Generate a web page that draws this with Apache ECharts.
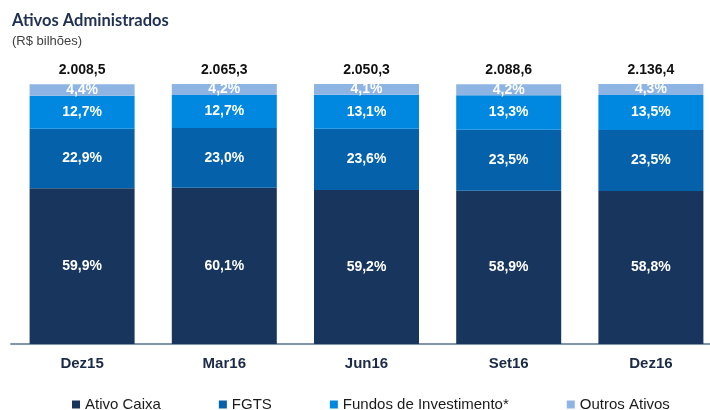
<!DOCTYPE html>
<html>
<head>
<meta charset="utf-8">
<script src="https://cdn.jsdelivr.net/npm/echarts@6/dist/echarts.min.js"></script>
<style>
  html, body { margin: 0; padding: 0; background: #fff; }
  #chart { width: 710px; height: 410px; }
</style>
</head>
<body>
<div id="chart"></div>
<script>
// períodos e totais (R$ bilhões)
var periodos = ['Dez15', 'Mar16', 'Jun16', 'Set16', 'Dez16'];
var totais = ['2.008,5', '2.065,3', '2.050,3', '2.088,6', '2.136,4'];

// participação (%) de cada tipo de ativo
var ativoCaixa = [59.9, 60.1, 59.2, 58.9, 58.8];
var fgts = [22.9, 23.0, 23.6, 23.5, 23.5];
var fundos = [12.7, 12.7, 13.1, 13.3, 13.5];
var outros = [4.4, 4.2, 4.1, 4.2, 4.3];

var nomes = ['Ativo Caixa', 'FGTS', 'Fundos de Investimento*', 'Outros Ativos'];
var cores = ['#18365d', '#0561aa', '#0088e0', '#8eb4e3'];

var chart = echarts.init(document.getElementById('chart'));

function pct(p) {
  return p.value.toFixed(1).replace('.', ',') + '%';
}

function serie(nome, dados, cor) {
  return {
    name: nome,
    type: 'bar',
    stack: 'total',
    barWidth: 105,
    data: dados,
    itemStyle: { color: cor },
    label: {
      show: true,
      position: 'inside',
      formatter: pct,
      color: '#fff',
      fontFamily: 'Liberation Sans',
      fontWeight: 'bold',
      fontSize: 14
    },
    emphasis: { disabled: true }
  };
}

var option = {
  animation: false,
  title: {
    text: 'Ativos Administrados',
    subtext: '(R$ bilhões)',
    left: 12,
    top: 12,
    padding: 0,
    itemGap: 6,
    textStyle: {
      fontFamily: 'Lato',
      fontWeight: 'bold',
      fontSize: 16.5,
      color: '#1f3050'
    },
    subtextStyle: {
      fontFamily: 'Liberation Sans',
      fontSize: 13,
      color: '#404040'
    }
  },
  legend: {
    data: nomes,
    left: 67,
    top: 392,
    icon: 'rect',
    itemWidth: 8,
    itemHeight: 8,
    itemGap: 58,
    selectedMode: false,
    textStyle: {
      fontFamily: 'Liberation Sans',
      fontSize: 15,
      color: '#1a1a1a'
    }
  },
  grid: {
    left: 11,
    top: 84,
    width: 711,
    bottom: 66,
    outerBoundsMode: 'none'
  },
  xAxis: [
    {
      type: 'category',
      data: periodos,
      axisLine: { lineStyle: { color: '#8494aa', width: 2 } },
      axisTick: { show: false },
      axisLabel: {
        margin: 12,
        fontFamily: 'Liberation Sans',
        fontWeight: 'bold',
        fontSize: 15,
        color: '#1b2a45'
      }
    },
    {
      type: 'category',
      position: 'top',
      data: totais,
      axisLine: { show: false },
      axisTick: { show: false },
      axisLabel: {
        margin: 7,
        fontFamily: 'Liberation Sans',
        fontWeight: 'bold',
        fontSize: 14,
        color: '#111'
      }
    }
  ],
  yAxis: {
    type: 'value',
    min: 0,
    max: 100,
    show: false
  },
  series: [
    serie(nomes[0], ativoCaixa, cores[0]),
    serie(nomes[1], fgts, cores[1]),
    serie(nomes[2], fundos, cores[2]),
    serie(nomes[3], outros, cores[3])
  ]
};

chart.setOption(option);
</script>
</body>
</html>
